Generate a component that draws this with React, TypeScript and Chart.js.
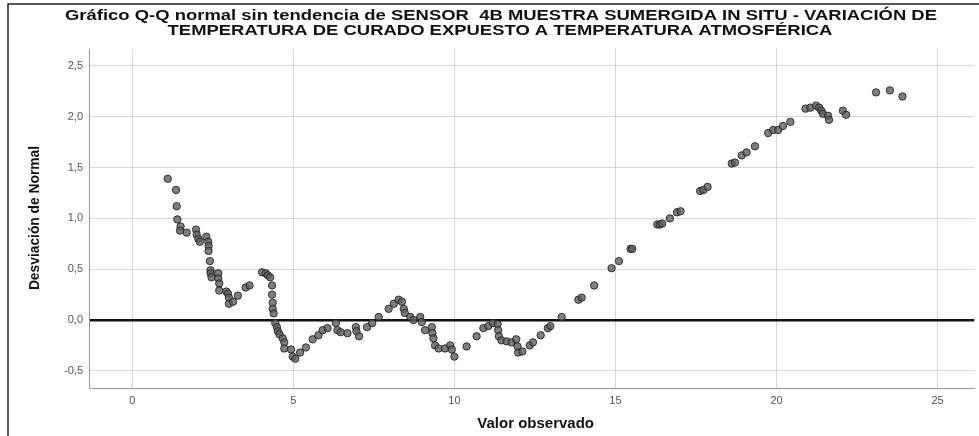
import React, { useEffect, useRef } from "react";
import { Chart, registerables } from "chart.js";

Chart.register(...registerables);

const titleLines = [
  "Gráfico Q-Q normal sin tendencia de SENSOR  4B MUESTRA SUMERGIDA IN SITU - VARIACIÓN DE",
  "TEMPERATURA DE CURADO EXPUESTO A TEMPERATURA ATMOSFÉRICA",
];
const xAxisTitle = "Valor observado";
const yAxisTitle = "Desviación de Normal";

const observedValues = [
  1.10, 1.36, 1.38, 1.40, 1.50, 1.48, 1.69, 1.98, 2.00, 2.05, 2.10, 2.30, 2.36, 2.37, 2.37, 2.41,
  2.43, 2.43, 2.46, 2.67, 2.67, 2.70, 2.70, 2.92, 2.97, 3.00, 3.00, 3.13, 3.28, 3.52, 3.64, 4.03,
  4.14, 4.21, 4.28, 4.34, 4.34, 4.36, 4.36, 4.39, 4.44, 4.49, 4.52, 4.57, 4.67, 4.72, 4.72, 4.93,
  4.98, 5.06, 5.21, 5.39, 5.60, 5.78, 5.91, 6.06, 6.32, 6.37, 6.47, 6.68, 6.94, 6.96, 7.04, 7.29,
  7.45, 7.65, 7.96, 8.12, 8.27, 8.37, 8.43, 8.46, 8.63, 8.73, 8.94, 8.99, 9.09, 9.30, 9.32, 9.35,
  9.40, 9.51, 9.71, 9.87, 9.92, 10.00, 10.38, 10.69, 10.90, 11.05, 11.20, 11.34, 11.36, 11.38, 11.46, 11.62,
  11.77, 11.92, 11.96, 11.98, 12.11, 12.34, 12.44, 12.68, 12.90, 12.98, 13.33, 13.85, 13.95, 14.34, 14.88, 15.11,
  15.47, 15.52, 16.30, 16.38, 16.45, 16.69, 16.91, 17.02, 17.63, 17.73, 17.86, 18.61, 18.71, 18.92, 19.07, 19.33,
  19.74, 19.90, 20.05, 20.20, 20.43, 20.90, 21.05, 21.23, 21.32, 21.39, 21.44, 21.60, 21.63, 22.06, 22.16, 23.09,
  23.52, 23.91,
];

const deviationValues = [
  1.39, 1.28, 1.12, 0.99, 0.92, 0.88, 0.86, 0.89, 0.84, 0.80, 0.77, 0.82, 0.77, 0.73, 0.68, 0.58,
  0.49, 0.46, 0.42, 0.46, 0.41, 0.36, 0.29, 0.28, 0.26, 0.22, 0.16, 0.18, 0.24, 0.32, 0.34, 0.47,
  0.46, 0.44, 0.42, 0.34, 0.25, 0.17, 0.11, 0.065, -0.03, -0.07, -0.11, -0.14, -0.18, -0.22, -0.28, -0.29,
  -0.36, -0.38, -0.32, -0.27, -0.19, -0.15, -0.10, -0.08, -0.03, -0.10, -0.12, -0.13, -0.07, -0.11, -0.16, -0.07,
  -0.03, 0.03, 0.11, 0.16, 0.20, 0.18, 0.11, 0.07, 0.03, 0.00, 0.03, -0.02, -0.10, -0.07, -0.13, -0.18,
  -0.25, -0.28, -0.28, -0.25, -0.29, -0.36, -0.26, -0.16, -0.08, -0.06, -0.03, -0.04, -0.10, -0.16, -0.20, -0.21,
  -0.22, -0.19, -0.26, -0.32, -0.31, -0.25, -0.22, -0.15, -0.08, -0.06, 0.03, 0.20, 0.22, 0.34, 0.51, 0.58,
  0.70, 0.70, 0.94, 0.94, 0.95, 1.00, 1.06, 1.07, 1.27, 1.28, 1.31, 1.54, 1.55, 1.62, 1.65, 1.71,
  1.84, 1.87, 1.87, 1.91, 1.95, 2.08, 2.09, 2.11, 2.09, 2.06, 2.03, 2.01, 1.97, 2.06, 2.02, 2.24,
  2.26, 2.20,
];

const xRange = [-1.343, 26.14];
const yRange = [-0.669, 2.667];
const xTickStep = 5;
const yTickStep = 0.5;

const TITLE_FONT = '"Liberation Sans", Arial, sans-serif';
const TICK_FONT = '"Liberation Sans", Arial, sans-serif';

function drawStretched(ctx: any, text: string, cx: number, cy: number, sx: number) {
  ctx.save();
  ctx.translate(cx, cy);
  ctx.scale(sx, 1);
  ctx.fillText(text, 0, 0);
  ctx.restore();
}

const decorPlugin = {
  id: "decor",
  beforeDraw(chart: any) {
    const ctx = chart.ctx;
    ctx.save();
    ctx.fillStyle = "#ffffff";
    ctx.fillRect(0, 0, chart.width, chart.height);
    ctx.strokeStyle = "#222222";
    ctx.lineWidth = 1.5;
    ctx.beginPath();
    ctx.moveTo(8, chart.height);
    ctx.lineTo(8, 4);
    ctx.lineTo(chart.width, 4);
    ctx.stroke();
    ctx.restore();
  },
  afterDraw(chart: any) {
    const ctx = chart.ctx;
    const area = chart.chartArea;
    ctx.save();
    ctx.fillStyle = "#111111";
    ctx.textAlign = "center";
    ctx.textBaseline = "middle";
    ctx.font = "bold 15px " + TITLE_FONT;
    const w1 = ctx.measureText(titleLines[0]).width;
    const sx = 872 / w1;
    drawStretched(ctx, titleLines[0], 501, 16, sx);
    drawStretched(ctx, titleLines[1], 500, 30.5, sx);
    ctx.font = "bold 15px " + TITLE_FONT;
    drawStretched(ctx, xAxisTitle, (area.left + area.right) / 2 + 4, 424, 1);
    ctx.translate(35, 218);
    ctx.rotate(-Math.PI / 2);
    ctx.scale(0.92, 1);
    ctx.fillText(yAxisTitle, 0, 0);
    ctx.restore();
  },
};

export default function App() {
  const ref = useRef<HTMLCanvasElement | null>(null);
  useEffect(() => {
    if (!ref.current) return;
    const points = observedValues.map((x, i) => ({ x, y: deviationValues[i] }));
    const chart = new Chart(ref.current, {
      type: "scatter",
      data: {
        datasets: [
          {
            data: points,
            pointRadius: 3.7,
            pointHoverRadius: 3.7,
            pointBackgroundColor: "rgba(95,95,95,0.8)",
            pointBorderColor: "rgba(30,30,30,0.85)",
            pointBorderWidth: 1,
          },
        ],
      },
      options: {
        responsive: false,
        animation: false,
        events: [],
        layout: { padding: { top: 49, left: 0, right: 0, bottom: 0 } },
        plugins: {
          legend: { display: false },
          tooltip: { enabled: false },
          title: { display: false },
        },
        scales: {
          x: {
            type: "linear",
            min: xRange[0],
            max: xRange[1],
            afterFit(scale: any) {
              scale.height = 48;
            },
            border: { display: true, color: "#9a9a9a", width: 1 },
            grid: { color: "#d6d6d6", lineWidth: 1, drawTicks: false },
            ticks: {
              stepSize: xTickStep,
              includeBounds: false,
              padding: 6,
              color: "#555555",
              font: { family: TICK_FONT, size: 11 },
              callback: (v: any) => String(v),
            },
          },
          y: {
            type: "linear",
            min: yRange[0],
            max: yRange[1],
            afterFit(scale: any) {
              scale.width = 89;
            },
            border: { display: true, color: "#9a9a9a", width: 1 },
            grid: {
              color: (c: any) => (c.tick && Math.abs(c.tick.value) < 1e-9 ? "#111111" : "#d6d6d6"),
              lineWidth: (c: any) => (c.tick && Math.abs(c.tick.value) < 1e-9 ? 2.5 : 1),
              drawTicks: false,
            },
            ticks: {
              stepSize: yTickStep,
              includeBounds: false,
              padding: 6,
              color: "#555555",
              font: { family: TICK_FONT, size: 11 },
              callback: (v: any) => Number(v).toFixed(1).replace(".", ","),
            },
          },
        },
      },
      plugins: [decorPlugin],
    });
    return () => chart.destroy();
  }, []);
  return (
    <div style={{ position: "fixed", left: 0, top: 0, width: 979, height: 436, background: "#fff" }}>
      <canvas ref={ref} width={979} height={436} style={{ display: "block", width: 979, height: 436 }} />
    </div>
  );
}
